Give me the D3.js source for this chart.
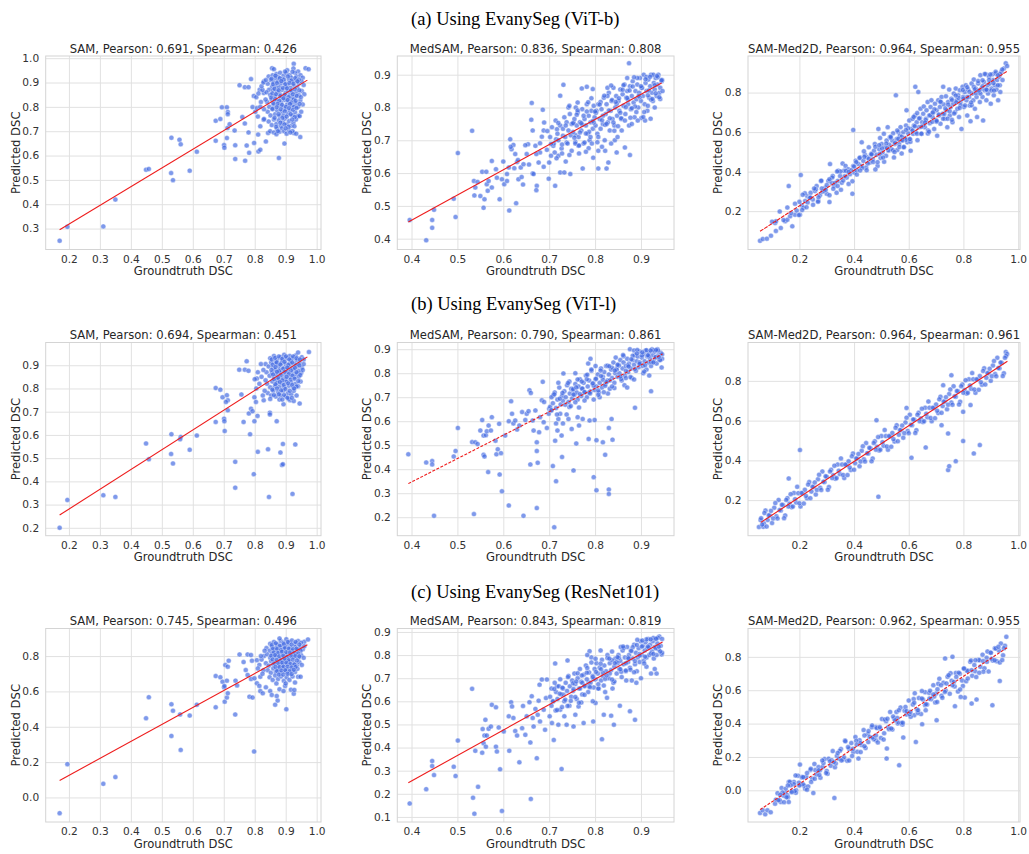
<!DOCTYPE html>
<html>
<head>
<meta charset="utf-8">
<script src="https://cdn.jsdelivr.net/npm/d3@7"></script>
<style>
  body { margin: 0; background: #fff; }
</style>
</head>
<body>
<svg id="chart" width="1029" height="854"></svg>
<script>
// row captions and panel names
var rowTitles = ["(a) Using EvanySeg (ViT-b)", "(b) Using EvanySeg (ViT-l)", "(c) Using EvanySeg (ResNet101)"]
var models = ["SAM", "MedSAM", "SAM-Med2D"]
var pearson = [[0.691, 0.836, 0.964], [0.694, 0.790, 0.964], [0.745, 0.843, 0.962]]
var spearman = [[0.426, 0.808, 0.955], [0.451, 0.861, 0.961], [0.496, 0.819, 0.955]]

// axis limits (x per column, y per panel)
var xLimits = [[0.125, 1.014], [0.369, 0.972], [0.012, 1.007]]
var yLimits = [
  [[0.214, 1.009], [0.367, 0.957], [0.006, 0.985]],
  [[0.166, 0.998], [0.123, 0.928], [0.021, 0.993]],
  [[-0.139, 0.956], [0.078, 0.915], [-0.190, 0.970]]
]
var xTicks = [
  [0.2, 0.3, 0.4, 0.5, 0.6, 0.7, 0.8, 0.9, 1.0],
  [0.4, 0.5, 0.6, 0.7, 0.8, 0.9],
  [0.2, 0.4, 0.6, 0.8, 1.0]
]
var yTicks = [
  [[0.3, 0.4, 0.5, 0.6, 0.7, 0.8, 0.9, 1.0], [0.4, 0.5, 0.6, 0.7, 0.8, 0.9], [0.2, 0.4, 0.6, 0.8]],
  [[0.2, 0.3, 0.4, 0.5, 0.6, 0.7, 0.8, 0.9], [0.2, 0.3, 0.4, 0.5, 0.6, 0.7, 0.8, 0.9], [0.2, 0.4, 0.6, 0.8]],
  [[0.0, 0.2, 0.4, 0.6, 0.8], [0.1, 0.2, 0.3, 0.4, 0.5, 0.6, 0.7, 0.8, 0.9], [0.0, 0.2, 0.4, 0.6, 0.8]]
]
// fitted line ends [x0, y0, x1, y1]
var fitLines = [
  [[0.17, 0.295, 0.97, 0.910], [0.393, 0.451, 0.945, 0.875], [0.056, 0.098, 0.961, 0.909]],
  [[0.17, 0.255, 0.97, 0.936], [0.393, 0.340, 0.947, 0.880], [0.059, 0.088, 0.961, 0.899]],
  [[0.17, 0.096, 0.97, 0.864], [0.393, 0.248, 0.947, 0.857], [0.056, -0.116, 0.961, 0.856]]
]
var fitDash = [[null, null, "4,1"], [null, "3,1.5", null], [null, null, "3,1.5"]]

// scatter points: flat (groundtruth, predicted) pairs, DSC x 1000
var samA = [170,250, 195,307, 311,309, 350,419, 449,542, 458,545, 531,673, 530,528, 536,499, 557,665, 561,646, 590,538, 613,616, 674,661, 674,743, 689,750, 694,798, 710,798, 713,779, 713,770, 701,643, 702,632, 710,672, 712,713, 719,729, 735,703, 737,642, 737,586, 769,579, 774,641, 782,611, 780,695, 760,758, 768,732, 751,889, 768,881, 780,881, 788,914, 793,799, 802,780, 797,845, 807,795, 798,652, 811,686, 812,617, 818,624, 818,720, 829,747, 816,870, 829,857, 836,658, 843,693, 878,590, 896,649, 926,693, 947,676, 941,764, 964,959, 974,955, 926,977, 856,959,
  862,955, 905,950, 925,958, 940,945, 930,940,
  845,925, 858,930, 870,935, 882,940, 893,928, 902,938, 913,930, 922,944, 935,925, 948,930, 955,920, 876,922, 898,945, 918,920, 866,918,
  830,905, 842,895, 852,910, 861,900, 868,885, 875,905, 884,895, 889,915, 896,900, 905,890, 911,912, 920,900, 927,885, 933,908, 942,896, 951,905, 958,890, 879,880, 900,882, 915,878, 937,880, 856,882, 846,870,
  838,860, 850,850, 859,868, 865,845, 872,862, 881,852, 888,870, 894,843, 900,858, 908,866, 913,848, 921,862, 928,842, 934,858, 943,848, 952,865, 960,852, 886,835, 918,835,
  840,820, 847,800, 855,830, 862,810, 870,825, 878,805, 885,818, 892,800, 898,828, 905,810, 912,822, 920,805, 926,830, 933,815, 940,800, 947,825, 955,810,
  842,780, 851,765, 858,790, 866,770, 873,785, 880,762, 887,780, 893,765, 900,790, 907,772, 914,785, 922,765, 930,778, 938,760, 945,762, 950,780,
  845,740, 855,725, 862,748, 870,730, 878,745, 884,722, 891,738, 897,752, 904,728, 911,742, 918,722, 925,735, 933,748, 928,720,
  850,700, 862,695, 872,710, 880,698, 888,712, 895,700, 903,690, 910,705, 922,700, 934,690, 870,688,
  805,840, 812,855, 820,820, 825,870, 830,790, 835,830, 810,760, 822,885, 828,900, 830,750, 818,800, 836,910,
  854,915, 867,928, 881,918, 894,912, 907,925, 919,908, 931,918, 943,912, 859,893, 872,898, 886,906, 899,893, 912,898, 925,895, 938,905, 864,874, 877,868, 891,878, 904,876, 917,868, 930,872, 944,868, 857,855, 869,852, 883,845, 897,850, 909,840, 923,852, 936,845, 949,840, 853,838, 866,832, 879,825, 893,835, 906,828, 919,818, 932,825, 945,812, 860,815, 874,812, 888,808, 901,800, 914,812, 927,800, 857,792, 871,798, 884,790, 897,782, 911,795, 924,788, 935,795, 864,755, 877,770, 890,755, 903,760, 916,770, 929,758, 869,718, 883,735, 896,728, 909,718, 921,748, 875,700, 900,712, 915,695]
var samB = [170,200, 195,320, 311,340, 350,333, 449,563, 458,495, 531,603, 530,518, 536,477, 561,591, 559,581, 590,536, 613,597, 674,656, 674,802, 689,795, 696,762, 710,771, 713,749, 707,742, 701,670, 702,659, 703,617, 713,706, 737,484, 737,373, 764,656, 781,692, 788,713, 785,603, 793,702, 757,774, 750,881, 768,881, 780,876, 774,917, 797,431, 810,527, 843,538, 846,333, 883,524, 888,470, 891,474, 891,561, 922,346, 931,559, 945,735, 799,659, 809,682, 829,749, 849,696, 849,688, 871,659, 893,732, 914,749, 926,746, 799,762, 804,742, 807,843, 975,957,
  850,930, 862,940, 873,925, 884,935, 895,945, 904,930, 913,940, 923,930, 932,942, 942,928, 952,935, 868,918, 890,920, 917,922, 936,920, 940,955, 958,925,
  835,905, 845,895, 853,912, 860,890, 868,905, 877,898, 886,910, 893,888, 900,905, 908,895, 915,908, 922,890, 929,905, 937,895, 945,910, 952,890, 958,905, 880,882, 902,880, 925,882, 865,880,
  838,870, 848,855, 856,868, 863,848, 870,862, 878,850, 885,868, 891,845, 898,860, 906,872, 912,850, 920,865, 927,848, 934,862, 942,850, 950,868, 873,838, 900,840,
  840,820, 850,805, 857,830, 865,810, 872,825, 880,808, 888,822, 895,805, 902,830, 910,812, 918,826, 925,805, 932,820, 940,810, 948,830,
  842,780, 853,770, 860,790, 868,765, 876,785, 884,770, 892,790, 900,765, 908,780, 918,775, 926,790, 935,770, 850,755, 880,752, 910,755,
  805,800, 815,820, 822,850, 828,880, 832,790, 810,870, 820,905, 826,770, 835,835, 800,840,
  855,925, 866,932, 878,938, 889,928, 901,938, 912,925, 924,938, 935,930, 946,925, 858,902, 871,912, 883,903, 896,915, 909,902, 921,912, 933,900, 944,900, 854,880, 867,892, 879,875, 892,885, 905,890, 917,878, 930,888, 942,875, 955,880, 859,860, 872,872, 884,858, 897,872, 910,862, 922,855, 935,870, 947,858, 862,840, 876,845, 889,835, 903,850, 916,838, 929,842, 941,832, 867,818, 881,828, 894,815, 908,822, 921,815, 935,808, 857,795, 872,800, 886,792, 899,798, 913,790, 927,800, 878,775, 895,772, 906,760, 862,772, 889,752, 920,760]
var samC = [170,-89, 195,188, 311,77, 350,115, 449,448, 458,567, 531,348, 531,527, 536,491, 561,269, 559,470, 590,463, 613,525, 674,510, 674,687, 689,680, 696,655, 701,623, 702,631, 703,542, 710,565, 713,589, 705,749, 713,740, 716,774, 710,661, 737,469, 738,661, 743,634, 751,809, 764,766, 777,809, 771,721, 777,693, 788,806, 791,774, 783,570, 793,565, 788,670, 799,674, 798,260, 807,777, 807,646, 815,631, 818,683, 818,602, 826,589, 836,623, 850,602, 855,580, 866,525, 874,548, 871,574, 880,612, 893,602, 898,631, 902,499, 917,610, 926,587, 928,608, 940,683, 960,881, 972,894, 948,683,
  850,870, 862,880, 873,865, 884,885, 893,875, 902,895, 912,878, 920,888, 930,870, 940,885, 950,875, 880,900, 905,865,
  838,845, 848,830, 856,852, 863,835, 870,848, 878,828, 886,855, 892,838, 900,850, 908,832, 915,848, 922,830, 930,852, 938,835, 946,850, 955,838, 960,855,
  830,800, 840,810, 850,790, 857,815, 865,795, 872,808, 880,785, 888,815, 895,795, 903,810, 910,785, 918,812, 925,795, 933,810, 941,790, 950,805, 958,790,
  836,760, 845,745, 853,770, 860,752, 868,768, 876,745, 883,765, 890,750, 898,772, 905,755, 913,768, 920,745, 928,760, 936,748, 944,765, 952,750,
  842,720, 852,705, 860,730, 868,710, 875,725, 883,705, 890,732, 897,712, 905,725, 912,702, 920,720, 930,710, 938,728,
  848,680, 858,665, 866,690, 875,670, 885,685, 894,660, 903,680, 912,665, 922,685, 930,650, 870,645, 900,645,
  815,750, 822,780, 828,720, 820,800, 832,830, 810,730, 825,700,
  855,862, 868,872, 881,858, 894,868, 907,880, 919,865, 932,880, 944,865, 859,842, 872,840, 885,835, 897,845, 910,842, 923,838, 935,842, 948,830, 862,820, 875,818, 888,825, 901,822, 914,820, 927,818, 940,815, 853,802, 866,805, 879,798, 892,802, 905,795, 918,800, 931,800, 944,798, 858,780, 871,778, 884,775, 897,782, 910,776, 923,780, 936,775, 863,758, 876,760, 889,762, 902,762, 915,755, 928,752, 867,738, 880,738, 893,740, 906,740, 919,735, 932,738, 872,715, 886,718, 899,720, 913,715, 926,722, 878,695, 892,695, 906,700, 919,698]

var medA = [396,457, 432,395, 445,433, 445,457, 449,488, 492,522, 496,466, 501,661, 532,729, 536,576, 537,532, 539,556, 544,573, 550,530, 554,604, 557,494, 559,520, 563,604, 564,566, 566,546, 568,576, 575,556, 575,637, 584,612, 586,586, 592,520, 597,581, 602,566, 608,597, 612,617, 613,486, 615,703, 618,673, 622,686, 626,658, 628,508, 630,634, 633,581, 638,617, 644,627, 651,658, 654,688, 643,565, 661,763, 662,814, 664,599, 666,597, 670,683, 673,561, 672,548, 677,632, 680,663, 684,711, 686,793, 688,730, 689,754, 695,671, 699,583, 700,632, 704,653, 709,683, 713,561, 715,703, 717,734, 720,653, 724,836, 724,602, 730,714, 731,869, 733,602, 736,635, 738,693, 742,800, 746,597, 749,668, 753,754, 757,716, 762,815, 764,683, 771,858, 773,614, 782,863, 786,676, 795,856, 796,647, 807,614, 807,668, 822,668, 825,614, 829,632, 843,700, 847,663, 865,678, 876,655, 901,768, 921,766, 874,935,
  702,710, 706,740, 710,690, 714,760, 718,720, 720,700, 724,745, 727,675, 730,735, 733,770, 735,710, 738,755, 740,690, 742,730, 745,780, 747,715, 749,750, 744,805, 728,660, 716,645,
  752,725, 755,765, 757,695, 760,745, 762,785, 764,710, 767,755, 770,730, 772,795, 775,690, 777,765, 780,745, 782,810, 784,720, 786,775, 788,700, 790,755, 792,790, 795,735, 797,805, 799,770, 765,660, 780,665, 793,690, 758,800,
  801,745, 803,790, 805,720, 807,810, 810,765, 812,735, 814,795, 817,750, 819,830, 821,700, 823,780, 825,810, 828,755, 830,845, 832,730, 834,790, 836,820, 838,765, 840,860, 842,745, 844,800, 846,835, 848,775, 849,710, 815,680, 835,690, 827,860,
  851,820, 853,790, 855,855, 857,765, 860,840, 862,805, 864,870, 866,780, 868,830, 870,850, 872,810, 874,745, 876,865, 878,795, 880,835, 882,880, 884,815, 886,770, 888,850, 890,825, 892,870, 894,800, 896,845, 898,890, 900,820, 858,730, 880,750, 870,890, 893,760,
  902,860, 904,835, 906,900, 908,810, 910,875, 912,850, 914,790, 916,885, 918,830, 920,865, 922,900, 924,845, 926,820, 928,875, 930,855, 932,890, 934,835, 936,870, 938,900, 940,845, 942,860, 945,880, 947,850, 915,805, 930,800, 909,760,
  752,752, 757,690, 762,791, 767,724, 772,747, 777,693, 782,788, 787,726, 792,828, 797,754, 802,784, 807,710, 812,817, 817,775, 822,747, 827,835, 832,767, 837,823, 842,729, 847,811, 852,828, 857,767, 862,868, 867,801, 872,823, 877,769, 882,864, 887,803, 892,890, 897,831, 902,860, 907,786, 912,893, 917,852, 922,824, 927,900, 932,843, 937,892, 942,826, 946,884,
  755,708, 760,778, 765,684, 770,752, 775,775, 780,721, 785,816, 790,710, 795,759, 800,788, 805,694, 810,809, 815,761, 820,836, 825,750, 830,791, 835,867, 840,754, 845,817, 850,743, 855,784, 860,854, 865,760, 870,829, 875,852, 880,798, 885,892, 890,786, 895,835, 900,865, 905,771, 910,886, 915,837, 920,894, 925,826, 930,868, 935,896, 940,831, 945,883,
  600,635, 608,576, 616,680, 624,615, 632,640, 640,588, 648,685, 656,626, 664,730, 672,658, 680,691, 688,619, 696,728, 704,689, 712,663, 720,753, 728,687, 736,745, 744,655]
var medB = [393,462, 432,428, 445,434, 445,420, 449,206, 492,453, 496,476, 501,572, 532,513, 536,213, 539,512, 544,505, 550,561, 554,605, 557,540, 557,460, 559,453, 562,542, 564,558, 567,388, 568,582, 573,561, 575,617, 583,519, 585,462, 588,483, 591,589, 592,378, 595,467, 597,308, 604,540, 612,600, 612,249, 617,683, 619,631, 622,591, 626,603, 630,565, 635,582, 641,638, 644,206, 648,605, 651,631, 655,642, 657,729, 659,420, 660,718, 664,603, 666,561, 670,645, 673,512, 673,476, 675,427, 673,238, 678,554, 680,617, 684,687, 686,764, 688,596, 689,680, 695,572, 699,631, 700,652, 704,645, 708,413, 709,708, 713,519, 715,350, 715,591, 718,561, 720,609, 724,631, 727,540, 728,451, 730,591, 731,799, 711,158, 738,628, 742,609, 744,659, 749,568, 753,395, 759,507, 762,617, 765,582, 773,609, 786,526, 788,603, 797,367, 799,605, 803,312, 803,521, 817,512, 822,460, 830,572, 830,315, 830,297, 836,609, 838,523, 887,656, 922,725, 945,824,
  702,660, 705,700, 708,675, 712,720, 715,655, 718,690, 722,740, 725,670, 728,705, 730,685, 733,725, 736,700, 739,750, 742,680, 745,715, 748,735, 750,695, 720,760, 744,765,
  752,730, 755,710, 757,755, 760,720, 762,690, 764,745, 767,775, 770,705, 772,735, 775,760, 777,720, 780,790, 782,700, 784,745, 787,770, 790,725, 792,810, 795,755, 797,690, 799,730, 785,840, 790,860, 757,800,
  801,775, 803,745, 806,795, 808,720, 810,760, 813,820, 815,740, 817,785, 820,805, 822,755, 824,830, 827,770, 830,795, 832,735, 835,815, 837,780, 840,845, 842,760, 844,800, 847,820, 849,785, 810,700, 828,715, 845,865,
  851,835, 853,800, 855,855, 858,770, 860,820, 862,845, 865,790, 867,830, 870,860, 872,805, 874,840, 876,900, 878,820, 880,780, 882,855, 885,835, 887,875, 889,810, 891,850, 893,870, 895,825, 897,890, 899,840, 864,750, 885,895, 870,740,
  902,865, 904,830, 906,880, 908,850, 910,895, 912,815, 914,870, 916,845, 918,885, 920,860, 922,830, 924,900, 926,875, 928,850, 930,890, 932,865, 934,840, 936,900, 938,875, 940,855, 943,885, 946,860, 905,800, 918,790,
  752,734, 757,679, 762,774, 767,713, 772,736, 777,686, 782,775, 787,720, 792,815, 797,748, 802,777, 807,710, 812,811, 817,773, 822,748, 827,831, 832,770, 837,823, 842,738, 847,815, 852,832, 857,776, 862,871, 867,810, 872,833, 877,784, 882,873, 887,818, 892,897, 897,845, 902,874, 907,807, 912,896, 917,871, 922,846, 927,896, 932,868, 937,895, 942,855, 946,879,
  705,646, 711,712, 717,628, 723,694, 729,718, 735,669, 741,759, 747,663, 753,711, 759,741, 765,657, 771,765, 777,722, 783,794, 789,716, 795,758, 801,830, 807,728, 813,788, 819,721, 825,763, 831,829, 837,745, 843,811, 849,835, 855,786, 861,876, 867,780, 873,828, 879,858, 885,774, 891,882, 897,839, 903,887, 909,833, 915,875, 921,895, 927,845, 933,897, 939,868]
var medC = [396,158, 432,220, 445,342, 445,320, 449,281, 492,317, 496,277, 501,430, 532,654, 534,183, 537,114, 539,386, 545,230, 554,378, 555,480, 557,419, 559,452, 561,520, 562,404, 564,452, 568,481, 573,491, 575,585, 584,574, 584,404, 586,383, 590,487, 593,306, 597,126, 601,470, 612,535, 613,386, 617,596, 619,578, 622,528, 626,472, 630,452, 635,336, 641,484, 643,580, 648,455, 651,535, 657,596, 659,422, 660,178, 662,622, 664,528, 666,491, 670,567, 673,354, 675,542, 677,603, 679,672, 680,513, 684,694, 688,564, 691,477, 693,614, 695,694, 701,535, 706,506, 709,600, 710,433, 713,764, 717,665, 720,499, 724,564, 727,307, 731,629, 733,535, 738,499, 740,777, 744,581, 753,491, 757,542, 764,578, 775,506, 786,680, 788,817, 796,513, 801,593, 815,436, 819,542, 835,538, 841,499, 854,581, 876,557, 887,520, 934,720, 945,803,
  702,620, 705,655, 708,600, 712,680, 715,640, 718,610, 721,665, 724,695, 727,630, 730,655, 733,600, 736,680, 739,645, 742,710, 745,665, 748,620, 750,690, 728,575, 740,580, 714,560,
  752,645, 755,720, 757,675, 760,610, 762,700, 765,655, 767,740, 770,685, 772,630, 775,715, 777,665, 780,755, 782,695, 785,640, 787,725, 790,680, 792,790, 795,710, 797,660, 799,740, 783,800, 795,600, 770,595,
  801,695, 803,765, 806,720, 808,655, 810,745, 813,690, 815,780, 817,710, 820,755, 822,640, 824,730, 827,800, 830,700, 832,765, 835,735, 837,815, 840,680, 842,750, 844,785, 847,720, 849,765, 812,820, 838,655, 826,615,
  851,800, 853,740, 855,775, 858,705, 860,820, 862,760, 865,790, 867,730, 870,835, 872,770, 874,800, 876,745, 878,820, 880,690, 882,785, 885,845, 887,760, 889,810, 891,730, 893,790, 895,830, 897,770, 899,860, 868,690, 890,680, 856,835,
  902,800, 904,840, 906,775, 908,820, 910,855, 912,790, 914,830, 916,870, 918,800, 920,845, 922,720, 924,815, 926,860, 928,785, 930,835, 932,870, 934,800, 936,850, 938,825, 940,880, 943,840, 946,810, 912,750, 930,740, 900,700,
  752,678, 757,619, 762,721, 767,656, 772,680, 777,628, 782,724, 787,665, 792,768, 797,696, 802,727, 807,655, 812,763, 817,724, 822,697, 827,787, 832,720, 837,778, 842,686, 847,770, 852,788, 857,728, 862,831, 867,765, 872,790, 877,737, 882,834, 887,774, 892,866, 897,805, 902,837, 907,764, 912,868, 917,833, 922,807, 927,874, 932,830, 937,875, 942,816, 946,870,
  705,581, 711,653, 717,562, 723,633, 729,659, 735,607, 741,705, 747,602, 753,653, 759,686, 765,594, 771,712, 777,667, 783,744, 789,661, 795,705, 801,784, 807,674, 813,739, 819,668, 825,712, 831,785, 837,694, 843,765, 849,791, 855,739, 861,837, 867,733, 873,785, 879,818, 885,726, 891,844, 897,798, 903,863, 909,793, 915,837, 921,868, 927,805, 933,871, 939,837]

var med2dA = [56,50, 66,59, 81,61, 96,76, 111,140, 114,149, 132,115, 148,149, 156,157, 161,327, 166,174, 174,123, 184,182, 190,203, 202,182, 205,383, 209,229, 215,217, 221,251, 229,276, 237,268, 241,293, 249,259, 257,302, 263,327, 269,251, 275,280, 279,353, 285,298, 294,319, 300,288, 306,353, 310,246, 312,438, 318,344, 322,378, 327,327, 336,293, 340,353, 342,404, 349,378, 355,344, 358,441, 363,404, 369,429, 373,370, 379,412, 385,387, 394,288, 397,611, 397,429, 401,395, 406,455, 409,407, 416,438, 422,472, 428,548, 428,429, 434,455, 440,485, 444,421, 448,472, 454,523, 458,446, 464,492, 468,463, 473,506, 476,540, 482,485, 486,429, 489,616, 492,514, 495,570, 497,469, 501,540, 504,497, 509,591, 513,523, 517,480, 519,557, 523,625, 526,506, 529,536, 531,574, 536,514, 540,557, 543,594, 546,472, 549,540, 553,786, 556,565, 558,509, 562,599, 565,540, 568,582, 570,625, 574,492, 577,557, 580,599, 582,523, 586,570, 590,633, 592,710, 595,548, 598,594, 602,659, 604,565, 607,506, 610,616, 614,667, 616,591, 619,633, 623,684, 624,829, 626,599, 629,650, 631,696, 635,803, 637,625, 641,671, 643,718, 647,591, 649,650, 653,693, 655,730, 659,625, 663,667, 665,710, 669,752, 671,608, 675,684, 677,645, 680,727, 683,761, 687,676, 690,701, 693,616, 696,744, 699,659, 702,710, 704,582, 708,761, 711,684, 714,727, 716,642, 720,778, 724,693, 726,829, 728,740, 732,667, 736,781, 738,710, 741,625, 744,752, 748,815, 750,684, 753,727, 756,769, 760,650, 763,744, 765,795, 769,701, 772,820, 775,761, 778,718, 781,786, 784,676, 787,812, 789,752, 793,616, 797,829, 799,778, 802,727, 805,803, 809,837, 811,761, 814,684, 817,815, 821,778, 823,735, 826,655, 830,846, 833,795, 836,761, 838,866, 842,718, 845,820, 848,778, 850,676, 854,846, 858,803, 860,752, 862,888, 866,820, 870,778, 872,659, 875,854, 878,812, 882,893, 884,761, 888,837, 890,795, 894,880, 896,846, 900,744, 903,820, 906,893, 909,863, 911,786, 915,837, 918,897, 921,815, 923,863, 927,761, 931,880, 933,837, 939,905, 943,863, 948,922, 955,948, 960,934, 935,803,
  430,418, 438,475, 446,407, 454,465, 462,487, 470,449, 478,526, 486,448, 494,490, 502,518, 510,450, 518,542, 526,509, 534,571, 542,508, 550,546, 558,608, 566,525, 574,577, 582,524, 590,561, 598,619, 606,551, 614,608, 622,630, 630,592, 638,669, 646,592, 654,634, 662,661, 670,593, 678,685, 686,652, 694,715, 702,652, 710,689, 718,751, 726,668, 734,720, 742,668, 750,705, 758,762, 766,694, 774,751, 782,773, 790,736, 798,813, 806,735, 814,777, 822,804, 830,736, 838,829, 846,796, 854,858, 862,795, 870,832, 878,894, 886,812, 894,864, 902,811, 910,848, 918,905, 926,837, 934,895, 942,917,
  200,247, 210,206, 220,290, 230,244, 240,268, 250,232, 260,311, 270,270, 280,354, 290,303, 300,332, 310,281, 320,370, 330,343, 340,327, 350,401, 360,355, 370,404, 380,338, 390,407, 400,426, 410,385, 420,469,
  100,147, 114,100, 128,198, 142,155, 156,218, 170,190, 184,238, 198,180, 212,283, 226,220, 240,268, 254,315, 268,248, 282,315, 296,308, 310,361, 324,313, 338,401, 352,308, 366,376, 380,398, 394,351, 408,448, 422,406, 436,503, 450,441, 464,488, 478,411, 492,534, 506,471, 520,519, 534,576, 548,499, 562,566, 576,559, 590,611, 604,564, 618,677, 632,559, 646,627, 660,649, 674,602, 688,699, 702,657, 716,754, 730,692, 744,739, 758,662, 772,785, 786,722, 800,770, 814,827, 828,750, 842,817, 856,810, 870,862, 884,815, 898,892, 912,810, 926,888]
var med2dB = [202,452, 161,309, 489,217, 662,465, 610,413, 720,577, 744,535, 744,351, 748,371, 772,396, 799,497, 838,435, 860,477, 826,678, 799,644, 592,664, 482,602, 726,778, 756,828,
  52,65, 58,100, 70,83, 955,945, 960,935,
  60,109, 68,66, 76,148, 84,100, 92,123, 100,85, 108,162, 116,119, 124,201, 132,148, 140,175, 148,123, 156,210, 164,182, 172,164, 180,236, 188,188, 196,235, 204,168, 212,235, 220,252, 228,209, 236,291, 244,243, 252,266, 260,228, 268,305, 276,262, 284,344, 292,291, 300,318, 308,266, 316,353, 324,325, 332,307, 340,379, 348,331, 356,379, 364,311, 372,378, 380,395, 388,352, 396,434, 404,386, 412,409, 420,371, 428,448, 436,405, 444,487, 452,434, 460,461, 468,409, 476,496, 484,468, 492,450, 500,522, 508,474, 516,522, 524,454, 532,521, 540,538, 548,495, 556,577, 564,529, 572,552, 580,514, 588,591, 596,548, 604,630, 612,577, 620,605, 628,552, 636,639, 644,611, 652,593, 660,665, 668,617, 676,665, 684,597, 692,664, 700,681, 708,638, 716,720, 724,673, 732,695, 740,657, 748,734, 756,691, 764,773, 772,720, 780,748, 788,695, 796,782, 804,754, 812,736, 820,808, 828,760, 836,808, 844,740, 852,807, 860,824, 868,781, 876,863, 884,816, 892,838, 900,800, 908,877, 916,834, 924,916, 932,863, 940,891, 948,838, 956,925,
  64,77, 72,135, 80,67, 88,124, 96,146, 104,108, 112,185, 120,108, 128,150, 136,177, 144,109, 152,201, 160,168, 168,230, 176,168, 184,205, 192,267, 200,184, 208,236, 216,183, 224,221, 232,278, 240,210, 248,267, 256,289, 264,251, 272,328, 280,251, 288,293, 296,320, 304,252, 312,344, 320,311, 328,373, 336,311, 344,348, 352,410, 360,327, 368,379, 376,326, 384,364, 392,421, 400,353, 408,410, 416,432, 424,394, 432,471, 440,394, 448,436, 456,463, 464,395, 472,487, 480,454, 488,517, 496,454, 504,491, 512,553, 520,470, 528,522, 536,469, 544,507, 552,564, 560,496, 568,553, 576,575, 584,537, 592,615, 600,537, 608,579, 616,606, 624,538, 632,630, 640,597, 648,660, 656,597, 664,634, 672,696, 680,613, 688,665, 696,612, 704,650, 712,707, 720,639, 728,696, 736,718, 744,680, 752,757, 760,680, 768,722, 776,749, 784,681, 792,773, 800,740, 808,803, 816,740, 824,777, 832,839, 840,756, 848,808, 856,755, 864,793, 872,850, 880,782, 888,839, 896,861, 904,823, 912,900, 920,823, 928,865, 936,892, 944,824, 952,916]
var med2dC = [56,-136, 66,-120, 75,-144, 83,-120, 95,-132, 111,-80, 114,-56, 132,-70, 148,-16, 156,-30, 161,50, 161,-70, 180,50, 188,0, 202,154, 209,80, 221,10, 251,-16, 328,-46, 275,120, 416,190, 519,190, 565,150, 580,316, 626,290, 649,396, 702,420, 769,504, 805,556, 830,520, 848,544, 906,510, 933,656, 957,920,
  733,790, 760,800, 790,560, 700,580, 620,450, 560,400, 480,300, 520,250, 660,510,
  120,-17, 128,-59, 135,14, 143,-33, 150,10, 158,-41, 165,51, 172,-6, 180,37, 187,-15, 195,88, 203,37, 210,79, 218,28, 225,81, 232,23, 240,122, 247,69, 255,158, 262,95, 270,139, 277,76, 285,140, 292,187, 300,116, 307,189, 315,147, 322,235, 330,138, 337,206, 345,189, 352,247, 360,185, 367,298, 375,177, 382,249, 390,283, 397,230, 405,319, 412,231, 420,300, 427,272, 435,361, 442,254, 450,337, 457,320, 465,378, 472,306, 480,379, 487,287, 495,370, 502,428, 510,342, 517,414, 525,378, 532,470, 540,364, 547,431, 555,470, 562,407, 570,496, 577,394, 585,477, 592,455, 600,538, 607,441, 615,514, 622,582, 630,485, 637,553, 645,457, 652,544, 660,588, 667,515, 675,584, 682,546, 690,630, 697,527, 705,606, 712,669, 720,567, 727,645, 735,598, 742,681, 750,579, 757,657, 765,650, 772,703, 780,592, 787,699, 795,658, 802,730, 810,654, 817,716, 825,770, 832,687, 840,751, 847,679, 855,782, 862,740, 870,813, 877,731, 885,794, 892,712, 900,825, 907,778, 915,852, 922,774, 930,838, 937,880, 945,809, 952,866,
  123,-59, 138,-13, 153,-42, 168,30, 183,-5, 198,46, 213,37, 228,104, 243,50, 258,121, 273,92, 288,163, 303,99, 318,180, 333,161, 348,237, 363,198, 378,259, 393,206, 408,297, 423,283, 438,264, 453,355, 468,316, 483,373, 498,314, 513,425, 528,366, 543,442, 558,433, 573,404, 588,500, 603,456, 618,547, 633,464, 648,550, 663,516, 678,597, 693,563, 708,639, 723,555, 738,641, 753,702, 768,623, 783,705, 798,626, 813,717, 828,778, 843,714, 858,780, 873,711, 888,832, 903,789, 918,850, 933,766, 948,852,
  130,-27, 144,-71, 158,29, 172,-11, 186,89, 200,29, 214,79, 228,4, 242,129, 256,69, 270,119, 284,179, 298,104, 312,174, 326,169, 340,224, 354,179, 368,294, 382,179, 396,249, 410,274, 424,229, 438,329, 452,289, 466,389, 480,329, 494,379, 508,304, 522,429, 536,370, 550,420, 564,480, 578,405, 592,475, 606,470, 620,525, 634,480, 648,595, 662,480, 676,550, 690,575, 704,530, 718,630, 732,590, 746,690, 760,630, 774,680, 788,605, 802,730, 816,670, 830,720, 844,780, 858,705, 872,775, 886,770, 900,825, 914,780, 928,860, 942,781]

var panelPoints = [[samA, medA, med2dA], [samB, medB, med2dB], [samC, medC, med2dC]]

// page layout
var colX = [[45.7, 321], [397.3, 674], [748, 1020]]
var rowY = [[56, 249.5], [342.5, 535.7], [628.5, 822]]
var rowTitleY = [25, 310, 598]

var svg = d3.select("#chart")
var fmt = d3.format(".1f")
var fmt3 = d3.format(".3f")

rowTitles.forEach((t, r) => {
  svg.append("text")
    .attr("x", 411).attr("y", rowTitleY[r])
    .attr("font-family", "'Liberation Serif', serif")
    .attr("font-size", 18.5)
    .attr("fill", "#000")
    .text(t)
})

function pairs(arr) {
  return d3.range(0, arr.length, 2).map(i => [arr[i] / 1000, arr[i + 1] / 1000])
}

function drawPanel(r, c) {
  const x0 = colX[c][0], x1 = colX[c][1]
  const y0 = rowY[r][0], y1 = rowY[r][1]
  const x = d3.scaleLinear().domain(xLimits[c]).range([x0, x1])
  const y = d3.scaleLinear().domain(yLimits[r][c]).range([y1, y0])
  const g = svg.append("g")

  // grid
  g.append("g")
    .attr("transform", `translate(0,${y1})`)
    .call(d3.axisBottom(x).tickValues(xTicks[c]).tickSize(-(y1 - y0)).tickFormat(""))
    .call(s => s.select(".domain").remove())
    .selectAll("line").attr("stroke", "#e1e1e1")
  g.append("g")
    .attr("transform", `translate(${x0},0)`)
    .call(d3.axisLeft(y).tickValues(yTicks[r][c]).tickSize(-(x1 - x0)).tickFormat(""))
    .call(s => s.select(".domain").remove())
    .selectAll("line").attr("stroke", "#e1e1e1")

  // tick labels
  const xa = g.append("g")
    .attr("transform", `translate(0,${y1})`)
    .call(d3.axisBottom(x).tickValues(xTicks[c]).tickSize(0).tickPadding(5.7).tickFormat(fmt))
  const ya = g.append("g")
    .attr("transform", `translate(${x0},0)`)
    .call(d3.axisLeft(y).tickValues(yTicks[r][c]).tickSize(0).tickPadding(6.5).tickFormat(fmt))
  ;[xa, ya].forEach(a => {
    a.select(".domain").remove()
    a.selectAll("text")
      .attr("font-family", "'DejaVu Sans', sans-serif")
      .attr("font-size", 10.6)
      .attr("fill", "#333")
  })

  // points
  g.append("g")
    .selectAll("circle")
    .data(pairs(panelPoints[r][c]))
    .join("circle")
    .attr("cx", d => x(d[0]))
    .attr("cy", d => y(d[1]))
    .attr("r", 2.5)
    .attr("fill", "#4169e1")
    .attr("fill-opacity", 0.68)
    .attr("stroke", "#fff")
    .attr("stroke-width", 0.5)
    .attr("stroke-opacity", 0.7)

  // fitted line
  const f = fitLines[r][c]
  g.append("line")
    .attr("x1", x(f[0])).attr("y1", y(f[1]))
    .attr("x2", x(f[2])).attr("y2", y(f[3]))
    .attr("stroke", "#ee1c1c")
    .attr("stroke-width", 1.1)
    .attr("stroke-dasharray", fitDash[r][c])

  // frame
  g.append("rect")
    .attr("x", x0).attr("y", y0)
    .attr("width", x1 - x0).attr("height", y1 - y0)
    .attr("fill", "none")
    .attr("stroke", "#d4d4d4")

  // titles and axis labels
  g.append("text")
    .attr("x", (x0 + x1) / 2).attr("y", y0 - 3.5)
    .attr("text-anchor", "middle")
    .attr("font-family", "'DejaVu Sans', sans-serif")
    .attr("font-size", 11.6)
    .attr("fill", "#262626")
    .text(`${models[c]}, Pearson: ${fmt3(pearson[r][c])}, Spearman: ${fmt3(spearman[r][c])}`)
  g.append("text")
    .attr("x", (x0 + x1) / 2).attr("y", y1 + 25.5)
    .attr("text-anchor", "middle")
    .attr("font-family", "'DejaVu Sans', sans-serif")
    .attr("font-size", 11.6)
    .attr("fill", "#262626")
    .text("Groundtruth DSC")
  g.append("text")
    .attr("transform", `translate(${x0 - 26},${(y0 + y1) / 2}) rotate(-90)`)
    .attr("text-anchor", "middle")
    .attr("font-family", "'DejaVu Sans', sans-serif")
    .attr("font-size", 11.6)
    .attr("fill", "#262626")
    .text("Predicted DSC")
}

for (let r = 0; r < 3; r++) {
  for (let c = 0; c < 3; c++) drawPanel(r, c)
}
</script>
</body>
</html>
